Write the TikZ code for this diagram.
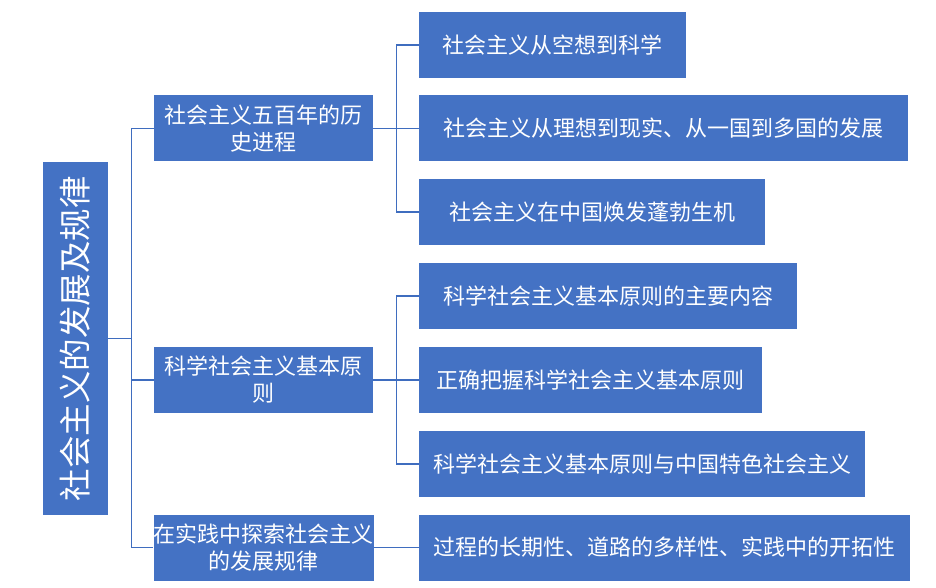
\documentclass[tikz,border=0pt]{standalone}
\usepackage{fontspec}
\newfontfamily\cjk{Noto Sans CJK SC}
\usepackage{xcolor}
\usetikzlibrary{positioning,calc}
\definecolor{boxblue}{HTML}{4472C4}
\definecolor{lineblue}{HTML}{3F6DBF}

\begin{document}
\begin{tikzpicture}[
  x=1pt, y=-1pt,
  topic/.style={fill=boxblue, text=white, font=\cjk\fontsize{22}{27}\selectfont, minimum height=66pt, inner sep=0pt, align=center},
  rootbox/.style={topic, rotate=90, font=\cjk\fontsize{32.5}{36}\selectfont, minimum width=353pt, minimum height=65pt},
  sub/.style={topic, anchor=west},
  link/.style={draw=lineblue, line width=1.2pt}
]
\useasboundingbox (0,0) rectangle (936,588);

% root and first level
\node[rootbox] (law) at (75.5,338.5) {社会主义的发展及规律};
\node[topic, minimum width=219pt] (hist) at (263.5,128.5) {社会主义五百年的历\\史进程};
\node[topic, minimum width=219pt] (prin) at (263.5,380) {科学社会主义基本原\\则};
\node[topic, minimum width=219pt] (prac) at (263.5,547.5) {在实践中探索社会主义\\的发展规律};

% second level
\node[sub, minimum width=267pt] (utopia) at (419,45) {社会主义从空想到科学};
\node[sub, minimum width=489pt] (reality) at (419,128.5) {社会主义从理想到现实、从一国到多国的发展};
\node[sub, minimum width=346pt] (china) at (419,212) {社会主义在中国焕发蓬勃生机};
\node[sub, minimum width=378pt] (content) at (419,296) {科学社会主义基本原则的主要内容};
\node[sub, minimum width=343pt] (grasp) at (419,380) {正确把握科学社会主义基本原则};
\node[sub, minimum width=446pt] (special) at (419,464) {科学社会主义基本原则与中国特色社会主义};
\node[sub, minimum width=491pt] (path) at (419,547.5) {过程的长期性、道路的多样性、实践中的开拓性};

% connectors
\coordinate (rbus) at ($(law.south)+(23,0)$);
\draw[link] (law.south) -- (rbus) |- (hist.west);
\draw[link] (rbus) |- (prin.west);
\draw[link] (rbus) |- (prac.west);

\coordinate (hbus) at ($(hist.east)+(23,0)$);
\draw[link] (hist.east) -- (hbus) |- (utopia.west);
\draw[link] (hbus) -- (reality.west);
\draw[link] (hbus) |- (china.west);

\coordinate (pbus) at ($(prin.east)+(23,0)$);
\draw[link] (prin.east) -- (pbus) |- (content.west);
\draw[link] (pbus) -- (grasp.west);
\draw[link] (pbus) |- (special.west);

\draw[link] (prac.east) -- (path.west);
\end{tikzpicture}
\end{document}
